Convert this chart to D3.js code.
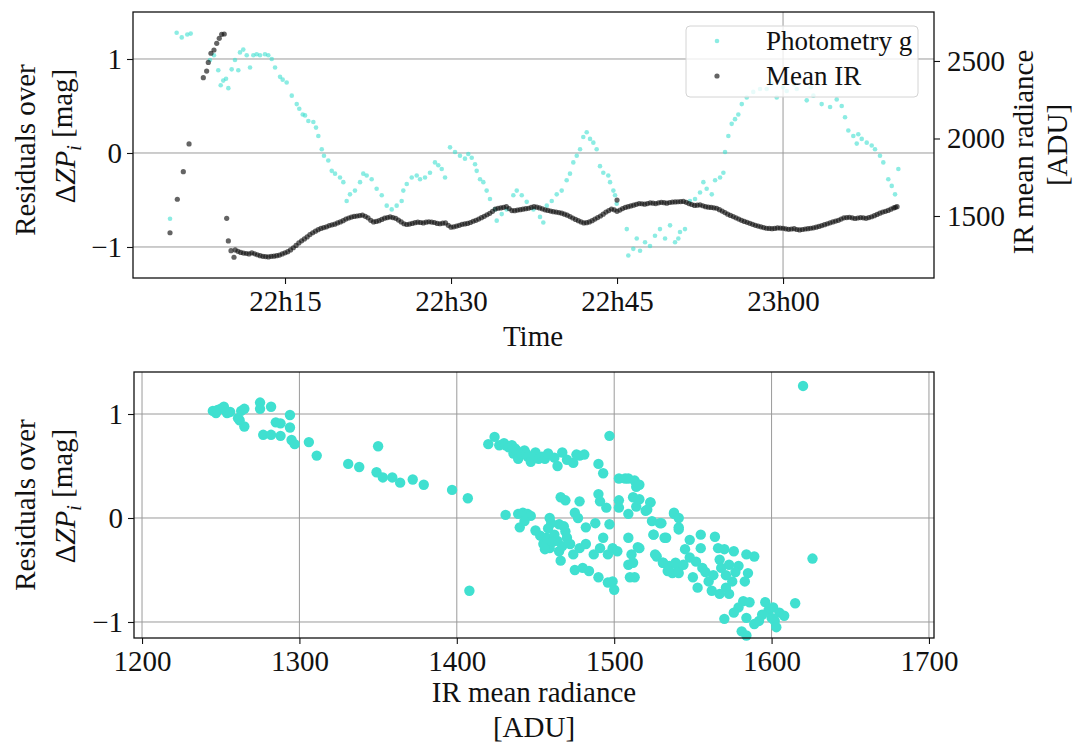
<!DOCTYPE html>
<html>
<head>
<meta charset="utf-8">
<script src="https://cdn.jsdelivr.net/npm/d3@7/dist/d3.min.js"></script>
<style>
  body { margin: 0; background: #fff; }
  svg text { font-family: "Liberation Serif", "DejaVu Serif", serif; fill: #111; }
</style>
</head>
<body>
<svg id="chart" width="1074" height="745"></svg>
<script>
// time in minutes after 22h00
var timeTicks = [15, 30, 45, 60];
var timeTickLabels = ['22h15', '22h30', '22h45', '23h00'];
var timeGridTicks = [60];
var residTicks = [-1, 0, 1];
var irTicks = [1500, 2000, 2500];
var radianceTicks = [1200, 1300, 1400, 1500, 1600, 1700];

// photometry g residuals over time (left axis, mag)
var photTime = [4.61, 5.21, 5.67, 6.17, 6.48, 8.22, 8.58, 8.97, 9.19, 9.42, 9.67, 9.88, 10.18, 10.48, 10.78, 10.93,
  11.23, 11.54, 11.84, 12.14, 12.44, 12.74, 13.19, 13.49, 13.80, 14.10, 14.55, 14.79, 15.15, 15.61, 16.06, 16.29,
  16.60, 16.81, 17.11, 17.56, 17.80, 18.01, 18.32, 18.52, 18.91, 19.22, 19.52, 19.97, 20.27, 20.57, 20.87, 21.32,
  21.78, 22.07, 22.38, 22.83, 23.28, 23.74, 24.19, 24.64, 25.09, 25.54, 25.69, 26.00, 26.45, 26.90, 27.20, 27.65,
  28.10, 28.55, 28.85, 29.16, 29.46, 29.91, 30.36, 30.81, 31.26, 31.56, 31.87, 32.17, 32.32, 32.62, 32.92, 33.22,
  33.52, 33.97, 34.13, 34.58, 35.03, 35.63, 35.94, 36.39, 36.84, 37.44, 38.04, 38.34, 38.65, 39.10, 39.55, 40.00,
  40.45, 40.75, 41.05, 41.36, 41.66, 41.95, 42.26, 42.56, 42.86, 43.16, 43.46, 43.76, 44.21, 44.37, 44.67, 44.82,
  44.97, 45.88, 46.02, 46.47, 46.78, 47.08, 47.53, 47.98, 48.43, 48.88, 49.34, 49.79, 50.24, 50.54, 50.69, 51.14,
  51.59, 52.05, 52.50, 52.80, 53.10, 53.56, 53.86, 54.31, 54.61, 54.76, 55.06, 55.36, 55.66, 55.96, 56.27, 56.72,
  57.31, 57.92, 58.52, 59.00, 59.43, 60.00, 60.33, 61.00, 61.24, 62.14, 62.50, 62.74, 63.49, 64.25, 64.85, 65.30,
  65.60, 65.90, 66.35, 66.66, 66.80, 67.11, 67.56, 68.01, 68.31, 68.76, 69.06, 69.51, 69.82, 70.12, 70.42];
var photResid = [-0.70, 1.28, 1.23, 1.26, 1.27, 0.99, 1.04, 0.88, 0.72, 0.77, 0.79, 0.69, 0.89, 0.99, 0.88, 1.07,
  1.10, 1.04, 0.91, 1.04, 1.05, 1.04, 1.05, 1.04, 1.00, 0.91, 0.81, 0.78, 0.75, 0.61, 0.52, 0.47,
  0.41, 0.40, 0.34, 0.33, 0.27, 0.18, 0.04, -0.03, -0.08, -0.19, -0.22, -0.26, -0.31, -0.51, -0.44, -0.40,
  -0.31, -0.22, -0.24, -0.28, -0.38, -0.45, -0.56, -0.60, -0.56, -0.51, -0.40, -0.33, -0.26, -0.24, -0.28, -0.26,
  -0.21, -0.10, -0.13, -0.17, -0.26, 0.06, 0.01, -0.03, -0.06, -0.01, -0.05, -0.12, -0.19, -0.28, -0.31, -0.40,
  -0.49, -0.60, -0.72, -0.65, -0.60, -0.45, -0.40, -0.45, -0.52, -0.60, -0.68, -0.74, -0.56, -0.51, -0.44, -0.40,
  -0.29, -0.22, -0.10, -0.03, 0.04, 0.17, 0.22, 0.15, 0.11, 0.04, -0.14, -0.21, -0.24, -0.31, -0.40, -0.45,
  -0.54, -0.81, -1.09, -1.02, -0.91, -1.04, -0.95, -0.99, -0.88, -0.81, -0.91, -0.77, -0.95, -0.91, -0.84, -0.81,
  -0.51, -0.49, -0.42, -0.31, -0.38, -0.44, -0.29, -0.26, -0.21, 0.01, 0.18, 0.31, 0.36, 0.41, 0.52, 0.59,
  0.65, 0.68, 0.68, 0.74, 0.59, 0.70, 0.66, 0.73, 0.68, 0.56, 0.70, 0.61, 0.52, 0.49, 0.57, 0.50,
  0.38, 0.24, 0.18, 0.10, 0.20, 0.15, 0.11, 0.08, 0.04, -0.03, -0.10, -0.28, -0.35, -0.44, -0.17];

// mean IR radiance over time (right axis, ADU)
var irTime = [4.61, 5.27, 5.81, 6.33, 7.62, 7.92, 8.07, 8.31, 8.58, 8.83, 9.06, 9.28, 9.51, 9.73, 9.88, 10.12,
  10.39, 10.5, 11.0, 11.5, 12.0, 12.5, 13.0, 13.5, 14.0, 14.5, 15.0, 15.5, 16.0, 16.5, 17.0, 17.5,
  18.0, 18.5, 19.0, 19.5, 20.0, 20.5, 21.0, 21.5, 22.0, 22.5, 23.0, 23.5, 24.0, 24.5, 25.0, 25.5,
  26.0, 26.5, 27.0, 27.5, 28.0, 28.5, 29.0, 29.5, 30.0, 30.5, 31.0, 31.5, 32.0, 32.5, 33.0, 33.5,
  34.0, 34.5, 35.0, 35.5, 36.0, 36.5, 37.0, 37.5, 38.0, 38.5, 39.0, 39.5, 40.0, 40.5, 41.0, 41.5,
  42.0, 42.5, 43.0, 43.5, 44.0, 44.5, 45.0, 45.0, 45.5, 46.0, 46.5, 47.0, 47.5, 48.0, 48.5, 49.0,
  49.5, 50.0, 50.5, 51.0, 51.5, 52.0, 52.5, 53.0, 53.5, 54.0, 54.5, 55.0, 55.5, 56.0, 56.5, 57.0,
  57.5, 58.0, 58.5, 59.0, 59.5, 60.0, 60.5, 61.0, 61.5, 62.0, 62.5, 63.0, 63.5, 64.0, 64.5, 65.0,
  65.5, 66.0, 66.5, 67.0, 67.5, 68.0, 68.5, 69.0, 69.5, 70.0, 70.3,
  10.75, 11.25, 11.75, 12.25, 12.75, 13.25, 13.75, 14.25, 14.75, 15.25, 15.75, 16.25, 16.75, 17.25, 17.75, 18.25,
  18.75, 19.25, 19.75, 20.25, 20.75, 21.25, 21.75, 22.25, 22.75, 23.25, 23.75, 24.25, 24.75, 25.25, 25.75, 26.25,
  26.75, 27.25, 27.75, 28.25, 28.75, 29.25, 29.75, 30.25, 30.75, 31.25, 31.75, 32.25, 32.75, 33.25, 33.75, 34.25,
  34.75, 35.25, 35.75, 36.25, 36.75, 37.25, 37.75, 38.25, 38.75, 39.25, 39.75, 40.25, 40.75, 41.25, 41.75, 42.25,
  42.75, 43.25, 43.75, 44.25, 44.75, 45.25, 45.75, 46.25, 46.75, 47.25, 47.75, 48.25, 48.75, 49.25, 49.75, 50.25,
  50.75, 51.25, 51.75, 52.25, 52.75, 53.25, 53.75, 54.25, 54.75, 55.25, 55.75, 56.25, 56.75, 57.25, 57.75, 58.25,
  58.75, 59.25, 59.75, 60.25, 60.75, 61.25, 61.75, 62.25, 62.75, 63.25, 63.75, 64.25, 64.75, 65.25, 65.75, 66.25,
  66.75, 67.25, 67.75, 68.25, 68.75, 69.25, 69.75, 70.15];
var irValue = [1392, 1608, 1786, 1965, 2392, 2435, 2491, 2550, 2571, 2614, 2646, 2672, 2674, 1485, 1339, 1276,
  1234, 1281, 1265, 1258, 1262, 1250, 1240, 1236, 1241, 1248, 1262, 1281, 1310, 1340, 1365, 1392,
  1412, 1425, 1438, 1447, 1462, 1480, 1493, 1500, 1506, 1488, 1462, 1470, 1486, 1494, 1485, 1462,
  1445, 1452, 1460, 1455, 1463, 1458, 1450, 1455, 1428, 1435, 1446, 1452, 1466, 1480, 1498, 1517,
  1545, 1552, 1560, 1535, 1538, 1544, 1550, 1560, 1552, 1540, 1532, 1525, 1518, 1505, 1487, 1470,
  1455, 1462, 1480, 1500, 1525, 1545, 1603, 1530, 1548, 1560, 1570, 1580, 1576, 1585, 1580, 1588,
  1583, 1590, 1592, 1594, 1580, 1568, 1572, 1560, 1555, 1550, 1532, 1512, 1496, 1480, 1465, 1453,
  1440, 1430, 1421, 1418, 1423, 1421, 1414, 1418, 1410, 1416, 1421, 1428, 1438, 1450, 1462, 1472,
  1488, 1492, 1484, 1490, 1485, 1495, 1510, 1525, 1536, 1552, 1560,
  1272, 1260, 1255, 1256, 1244, 1238, 1240, 1244, 1255, 1270, 1295, 1326, 1352, 1380, 1402, 1420,
  1430, 1443, 1455, 1470, 1487, 1497, 1503, 1498, 1472, 1465, 1478, 1490, 1490, 1474, 1450, 1448,
  1457, 1458, 1460, 1461, 1452, 1454, 1440, 1430, 1440, 1449, 1458, 1472, 1489, 1508, 1530, 1550,
  1556, 1548, 1534, 1541, 1547, 1555, 1557, 1546, 1536, 1528, 1522, 1512, 1496, 1478, 1462, 1457,
  1470, 1490, 1512, 1535, 1540, 1538, 1555, 1565, 1575, 1579, 1580, 1583, 1585, 1586, 1587, 1591,
  1593, 1588, 1574, 1570, 1566, 1557, 1553, 1541, 1522, 1504, 1488, 1472, 1459, 1446, 1435, 1425,
  1420, 1420, 1422, 1417, 1416, 1413, 1413, 1418, 1424, 1433, 1444, 1456, 1467, 1480, 1490, 1488,
  1487, 1488, 1490, 1502, 1518, 1530, 1544, 1556];

// residuals against IR mean radiance (bottom panel)
var scatterIR = [1245, 1247, 1248, 1250, 1252, 1254, 1256, 1261, 1263, 1265, 1265, 1262, 1275, 1275, 1282, 1277,
  1282, 1285, 1288, 1288, 1294, 1294, 1295, 1297, 1306, 1311, 1331, 1338, 1350, 1349, 1353, 1359,
  1364, 1372, 1379, 1397, 1407, 1408, 1420, 1424, 1427, 1430, 1431, 1433, 1435, 1436, 1437, 1438,
  1439, 1441, 1443, 1444, 1445, 1447, 1449, 1450, 1452, 1454, 1456, 1458, 1462, 1464, 1467, 1470,
  1474, 1476, 1478, 1481, 1490, 1493, 1497, 1503, 1507, 1509, 1513, 1514, 1512, 1514, 1466, 1469,
  1478, 1490, 1491, 1495, 1503, 1503, 1509, 1520, 1523, 1524, 1530, 1538, 1541, 1431, 1439, 1442,
  1445, 1447, 1440, 1443, 1459, 1465, 1469, 1475, 1477, 1482, 1488, 1497, 1453, 1455, 1457, 1459,
  1462, 1464, 1465, 1466, 1470, 1472, 1474, 1478, 1482, 1487, 1491, 1493, 1496, 1499, 1502, 1509,
  1509, 1512, 1515, 1475, 1480, 1484, 1490, 1496, 1500, 1499, 1510, 1513, 1511, 1525, 1532, 1527,
  1531, 1535, 1537, 1541, 1458, 1461, 1467, 1460, 1456, 1468, 1450,
  1620, 1516, 1516, 1523, 1521, 1529, 1538, 1541, 1541, 1525, 1533, 1548, 1555, 1564, 1516, 1526,
  1531, 1534, 1539, 1541, 1544, 1548, 1550, 1555, 1556, 1553, 1560, 1562, 1566, 1567, 1568, 1570,
  1573, 1567, 1571, 1576, 1579, 1575, 1573, 1584, 1589, 1585, 1583, 1570, 1579, 1582, 1586, 1576,
  1584, 1589, 1581, 1584, 1596, 1598, 1601, 1602, 1605, 1608, 1603, 1600, 1594, 1592, 1615, 1626,
  1558, 1563, 1571, 1577, 1545, 1552];
var scatterResid = [1.03, 1.01, 1.04, 1.05, 1.07, 1.01, 1.02, 0.96, 1.03, 1.05, 0.88, 0.94, 1.11, 1.05, 1.07, 0.80,
  0.80, 0.92, 0.79, 0.91, 0.99, 0.87, 0.75, 0.71, 0.73, 0.60, 0.52, 0.49, 0.69, 0.44, 0.39, 0.39,
  0.34, 0.37, 0.32, 0.27, 0.19, -0.70, 0.71, 0.78, 0.70, 0.72, 0.70, 0.68, 0.70, 0.62, 0.67, 0.65,
  0.57, 0.62, 0.65, 0.62, 0.59, 0.54, 0.60, 0.63, 0.57, 0.59, 0.57, 0.62, 0.58, 0.50, 0.63, 0.56,
  0.53, 0.61, 0.60, 0.61, 0.52, 0.43, 0.79, 0.38, 0.38, 0.38, 0.36, 0.30, 0.20, 0.11, 0.20, 0.17,
  0.16, 0.23, 0.16, 0.10, 0.17, 0.10, 0.04, 0.07, 0.15, -0.03, -0.05, 0.05, -0.09, 0.03, 0.04, 0.05,
  0.04, 0.02, -0.09, -0.03, 0.00, -0.06, -0.13, 0.05, 0.00, -0.09, -0.05, -0.06, -0.17, -0.25, -0.19, -0.29,
  -0.16, -0.22, -0.32, -0.41, -0.19, -0.25, -0.35, -0.29, -0.25, -0.35, -0.29, -0.19, -0.35, -0.29, -0.32, -0.19,
  -0.45, -0.43, -0.28, -0.50, -0.48, -0.51, -0.57, -0.62, -0.69, -0.61, -0.57, -0.57, -0.35, -0.16, -0.19, -0.37,
  -0.43, -0.46, -0.53, -0.48, -0.10, -0.23, -0.27, -0.05, -0.30, -0.08, -0.12,
  1.27, 0.32, 0.18, 0.15, 0.08, -0.05, 0.04, 0.00, -0.11, -0.16, -0.19, -0.21, -0.16, -0.18, -0.29, -0.35,
  -0.43, -0.51, -0.43, -0.53, -0.45, -0.38, -0.57, -0.29, -0.48, -0.67, -0.61, -0.70, -0.29, -0.40, -0.48, -0.30,
  -0.45, -0.73, -0.67, -0.32, -0.46, -0.61, -0.73, -0.35, -0.37, -0.53, -0.61, -0.97, -0.86, -0.80, -0.81, -0.91,
  -0.96, -1.02, -1.09, -1.13, -0.81, -0.89, -0.86, -0.99, -0.91, -0.94, -1.05, -0.96, -0.93, -0.99, -0.82, -0.39,
  -0.52, -0.55, -0.55, -0.52, -0.30, -0.42];

var turquoise = '#40e0d0';
var fontSize = 29;

var svg = d3.select('#chart');

function styleAxis(g) {
  g.select('.domain').remove();
  g.attr('font-family', '"Liberation Serif", "DejaVu Serif", serif')
    .attr('font-size', fontSize);
  g.selectAll('.tick line').attr('stroke', '#111').attr('stroke-width', 1.1);
  g.selectAll('.tick text').attr('fill', '#111');
}

// ---------- top panel ----------
var topBox = { left: 133, right: 934, top: 12, bottom: 278 };

var xTime = d3.scaleLinear().domain([1.265, 73.64]).range([topBox.left, topBox.right]);
var yResidTop = d3.scaleLinear().domain([-1.33, 1.5]).range([topBox.bottom, topBox.top]);
var yIR = d3.scaleLinear().domain([1100, 2816]).range([topBox.bottom, topBox.top]);

var topGroup = svg.append('g');

topGroup.selectAll('line.hgrid')
  .data(residTicks)
  .enter().append('line')
  .attr('class', 'hgrid')
  .attr('x1', topBox.left).attr('x2', topBox.right)
  .attr('y1', function(d) { return yResidTop(d); })
  .attr('y2', function(d) { return yResidTop(d); })
  .attr('stroke', '#9a9a9a').attr('stroke-width', 1);

topGroup.selectAll('line.vgrid')
  .data(timeGridTicks)
  .enter().append('line')
  .attr('class', 'vgrid')
  .attr('y1', topBox.top).attr('y2', topBox.bottom)
  .attr('x1', function(d) { return xTime(d); })
  .attr('x2', function(d) { return xTime(d); })
  .attr('stroke', '#9a9a9a').attr('stroke-width', 1);

topGroup.selectAll('circle.phot')
  .data(d3.zip(photTime, photResid))
  .enter().append('circle')
  .attr('class', 'phot')
  .attr('cx', function(d) { return xTime(d[0]); })
  .attr('cy', function(d) { return yResidTop(d[1]); })
  .attr('r', 2.3)
  .attr('fill', turquoise)
  .attr('fill-opacity', 0.6);

topGroup.selectAll('circle.ir')
  .data(d3.zip(irTime, irValue))
  .enter().append('circle')
  .attr('class', 'ir')
  .attr('cx', function(d) { return xTime(d[0]); })
  .attr('cy', function(d) { return yIR(d[1]); })
  .attr('r', 2.6)
  .attr('fill', '#111')
  .attr('fill-opacity', 0.65);

topGroup.append('rect')
  .attr('x', topBox.left).attr('y', topBox.top)
  .attr('width', topBox.right - topBox.left).attr('height', topBox.bottom - topBox.top)
  .attr('fill', 'none').attr('stroke', '#111').attr('stroke-width', 1.3);

topGroup.append('g')
  .attr('transform', 'translate(0,' + topBox.bottom + ')')
  .call(d3.axisBottom(xTime).tickValues(timeTicks)
    .tickFormat(function(d, i) { return timeTickLabels[i]; })
    .tickSize(6).tickPadding(6))
  .call(styleAxis);

topGroup.append('g')
  .attr('transform', 'translate(' + topBox.left + ',0)')
  .call(d3.axisLeft(yResidTop).tickValues(residTicks).tickFormat(d3.format('d'))
    .tickSize(6).tickPadding(5))
  .call(styleAxis);

topGroup.append('g')
  .attr('transform', 'translate(' + topBox.right + ',0)')
  .call(d3.axisRight(yIR).tickValues(irTicks).tickFormat(d3.format('d'))
    .tickSize(6).tickPadding(7))
  .call(styleAxis);

// legend
var legend = topGroup.append('g');
legend.append('rect')
  .attr('x', 686).attr('y', 26).attr('width', 232).attr('height', 71).attr('rx', 4)
  .attr('fill', '#fff').attr('fill-opacity', 0.8)
  .attr('stroke', '#d4d4d4').attr('stroke-width', 1);
legend.append('circle').attr('cx', 717).attr('cy', 41).attr('r', 2.3)
  .attr('fill', turquoise).attr('fill-opacity', 0.6);
legend.append('circle').attr('cx', 717).attr('cy', 76).attr('r', 2.6)
  .attr('fill', '#111').attr('fill-opacity', 0.65);
legend.append('text').attr('x', 766).attr('y', 50).attr('font-size', 27).text('Photometry g');
legend.append('text').attr('x', 766).attr('y', 85).attr('font-size', 27).text('Mean IR');

// ---------- bottom panel ----------
var botBox = { left: 134, right: 934, top: 372, bottom: 638 };

var xRad = d3.scaleLinear().domain([1194.9, 1703.2]).range([botBox.left, botBox.right]);
var yResidBot = d3.scaleLinear().domain([-1.154, 1.404]).range([botBox.bottom, botBox.top]);

var botGroup = svg.append('g');

botGroup.selectAll('line.hgrid')
  .data(residTicks)
  .enter().append('line')
  .attr('class', 'hgrid')
  .attr('x1', botBox.left).attr('x2', botBox.right)
  .attr('y1', function(d) { return yResidBot(d); })
  .attr('y2', function(d) { return yResidBot(d); })
  .attr('stroke', '#9a9a9a').attr('stroke-width', 1);

botGroup.selectAll('line.vgrid')
  .data(radianceTicks)
  .enter().append('line')
  .attr('class', 'vgrid')
  .attr('y1', botBox.top).attr('y2', botBox.bottom)
  .attr('x1', function(d) { return xRad(d); })
  .attr('x2', function(d) { return xRad(d); })
  .attr('stroke', '#9a9a9a').attr('stroke-width', 1);

botGroup.selectAll('circle.pt')
  .data(d3.zip(scatterIR, scatterResid))
  .enter().append('circle')
  .attr('class', 'pt')
  .attr('cx', function(d) { return xRad(d[0]); })
  .attr('cy', function(d) { return yResidBot(d[1]); })
  .attr('r', 5.2)
  .attr('fill', turquoise);

botGroup.append('rect')
  .attr('x', botBox.left).attr('y', botBox.top)
  .attr('width', botBox.right - botBox.left).attr('height', botBox.bottom - botBox.top)
  .attr('fill', 'none').attr('stroke', '#111').attr('stroke-width', 1.3);

botGroup.append('g')
  .attr('transform', 'translate(0,' + botBox.bottom + ')')
  .call(d3.axisBottom(xRad).tickValues(radianceTicks).tickFormat(d3.format('d'))
    .tickSize(6).tickPadding(6))
  .call(styleAxis);

botGroup.append('g')
  .attr('transform', 'translate(' + botBox.left + ',0)')
  .call(d3.axisLeft(yResidBot).tickValues(residTicks).tickFormat(d3.format('d'))
    .tickSize(6).tickPadding(5))
  .call(styleAxis);

// ---------- axis titles ----------
function rotatedLabel(x, y) {
  return svg.append('text')
    .attr('transform', 'translate(' + x + ',' + y + ') rotate(-90)')
    .attr('text-anchor', 'middle')
    .attr('dy', '0.35em')
    .attr('font-size', fontSize);
}

function zpLabel(x, y) {
  var t = rotatedLabel(x, y);
  t.append('tspan').text('\u0394');
  t.append('tspan').attr('font-style', 'italic').text('ZP');
  t.append('tspan').attr('font-style', 'italic').attr('font-size', 20).attr('dy', '0.3em').text('i');
  t.append('tspan').attr('dy', '-0.3em').text(' [mag]');
}

rotatedLabel(25, 150).text('Residuals over');
zpLabel(65, 136);
rotatedLabel(25, 505).text('Residuals over');
zpLabel(65, 496);

rotatedLabel(1023, 152).text('IR mean radiance');
rotatedLabel(1057, 145).text('[ADU]');

svg.append('text').attr('x', 533).attr('y', 346).attr('text-anchor', 'middle')
  .attr('font-size', fontSize).text('Time');
svg.append('text').attr('x', 534).attr('y', 702).attr('text-anchor', 'middle')
  .attr('font-size', fontSize).text('IR mean radiance');
svg.append('text').attr('x', 534).attr('y', 737).attr('text-anchor', 'middle')
  .attr('font-size', fontSize).text('[ADU]');
</script>
</body>
</html>
